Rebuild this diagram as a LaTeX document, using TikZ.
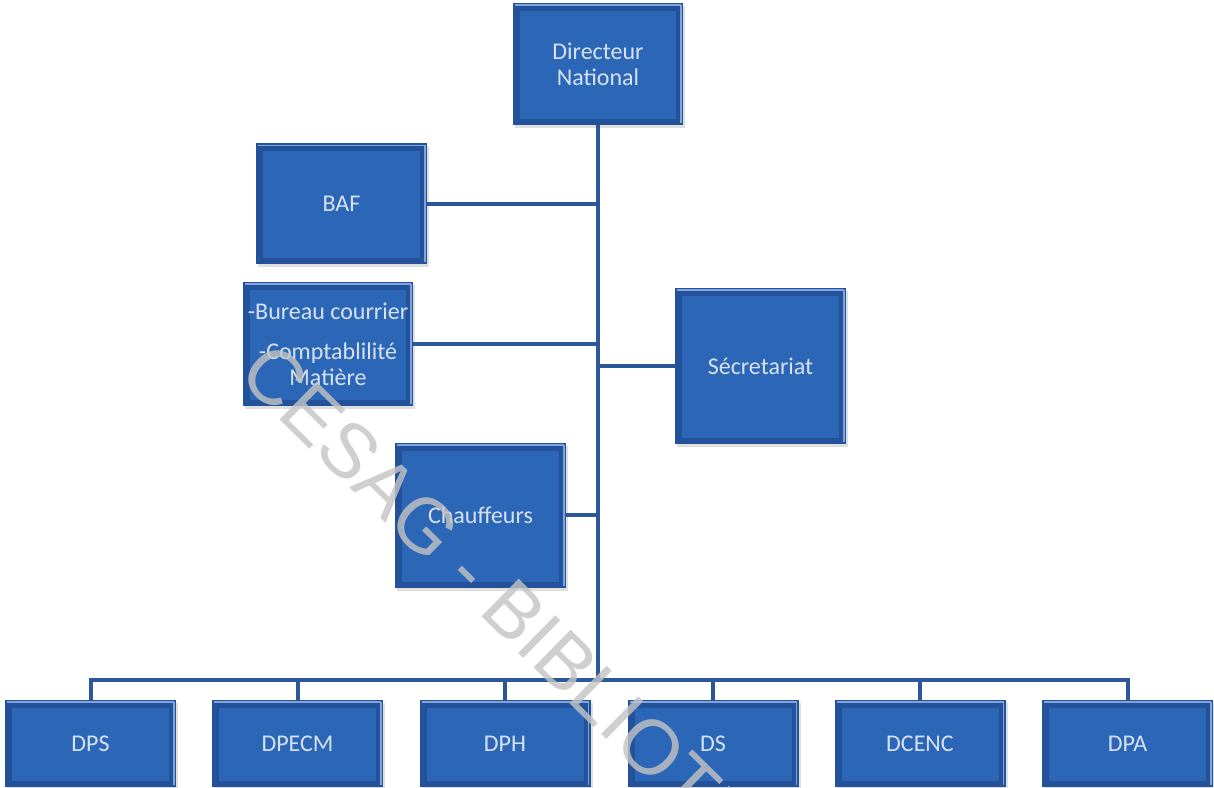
\documentclass[tikz,border=0pt]{standalone}
\usepackage{fontspec}
\setmainfont{Carlito}
\newfontfamily\wmfont{Liberation Sans}
\usetikzlibrary{shadows}
\definecolor{boxblue}{HTML}{24529A}
\definecolor{boxinner}{HTML}{2C66B6}
\definecolor{boxhi}{HTML}{7FA6DC}
\definecolor{boxtext}{HTML}{D6E2F2}
\definecolor{linkblue}{HTML}{2C5899}
\definecolor{wmgray}{HTML}{C4C4C4}
\tikzset{
  orgbox/.style={draw=none, fill=boxblue, text=boxtext, align=center,
    inner sep=0pt, font=\fontsize{24}{26}\selectfont,
    drop shadow={shadow xshift=2pt, shadow yshift=-3pt, opacity=0.25},
    path picture={
      \fill[boxinner] ([shift={(7pt,-8pt)}]path picture bounding box.north west)
        rectangle ([shift={(-7pt,6pt)}]path picture bounding box.south east);
      \draw[boxhi, line width=1.5pt] ([shift={(2pt,-2pt)}]path picture bounding box.north west)
        -- ([shift={(-2pt,-2pt)}]path picture bounding box.north east);
      \draw[boxhi, line width=1.5pt] ([shift={(-2pt,-2pt)}]path picture bounding box.north east)
        -- ([shift={(-2pt,2pt)}]path picture bounding box.south east);
    }},
  link/.style={draw=linkblue, line width=4pt},
  bottombox/.style={orgbox, minimum width=171pt, minimum height=87pt}
}
\begin{document}
\begin{tikzpicture}[x=1pt,y=1pt]
\useasboundingbox (0,0) rectangle (1214,787);
\fill[white] (0,0) rectangle (1214,787);
% nodes
\node[orgbox, minimum width=170pt, minimum height=122pt] (dn) at (598,723) {Directeur\\National};
\node[orgbox, minimum width=171pt, minimum height=121pt] (baf) at (341.5,583) {BAF};
\node[orgbox, minimum width=170pt, minimum height=124pt] (bur) at (328,443) {-Bureau courrier\\[14pt]-Comptablilité\\Matière};
\node[orgbox, minimum width=171pt, minimum height=156pt] (sec) at (760.5,421) {Sécretariat};
\node[orgbox, minimum width=171pt, minimum height=145pt] (chf) at (480.5,271.5) {Chauffeurs};
\node[bottombox] (dps) at (90.5,43.5) {DPS};
\node[bottombox] (dpecm) at (297.5,43.5) {DPECM};
\node[bottombox] (dph) at (505,43.5) {DPH};
\node[bottombox] (ds) at (713,43.5) {DS};
\node[bottombox] (dcenc) at (920,43.5) {DCENC};
\node[bottombox] (dpa) at (1127.5,43.5) {DPA};
% connectors
\coordinate (trunkbot) at (598,107);
\coordinate (jbaf) at (598,583);
\coordinate (jbur) at (598,443);
\coordinate (jsec) at (598,421);
\coordinate (jchf) at (598,271.5);
\draw[link] (dn.south) -- (trunkbot);
\draw[link] (baf.east) -- (jbaf);
\draw[link] (bur.east) -- (jbur);
\draw[link] (sec.west) -- (jsec);
\draw[link] (chf.east) -- (jchf);
\draw[link, line cap=rect] (dps.north |- trunkbot) -- (dpa.north |- trunkbot);
\foreach \n in {dps,dpecm,dph,ds,dcenc,dpa}{
  \draw[link] (\n.north |- trunkbot) -- (\n.north);
}
% watermark
\begin{scope}
\clip (0,0) rectangle (1214,787);
\node[anchor=base west, rotate=-44.5, text=wmgray, opacity=0.8, inner sep=0pt,
  font=\wmfont\fontsize{77}{77}\selectfont] (wm) at (236,411) {CESAG - BIBLIOTHEQUE};
\end{scope}
\end{tikzpicture}
\end{document}
